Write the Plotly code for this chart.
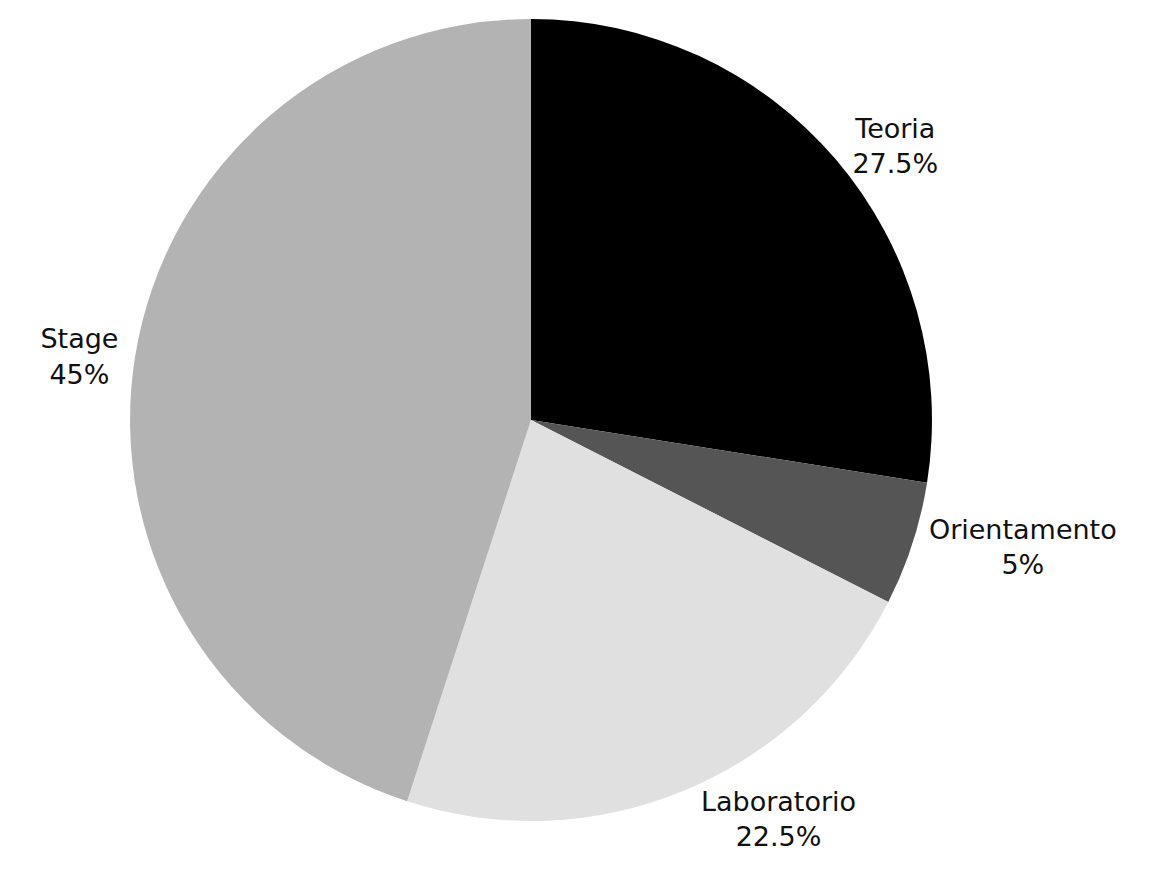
import plotly.graph_objects as go

labels = ["Teoria", "Orientamento", "Laboratorio", "Stage"]
values = [27.5, 5, 22.5, 45]
colors = ["#000000", "#555555", "#e0e0e0", "#b3b3b3"]

fig = go.Figure(go.Pie(
    labels=labels,
    values=values,
    sort=False,
    direction="clockwise",
    rotation=0,
    marker=dict(colors=colors, line=dict(width=0)),
    textinfo="label+percent",
    textposition="outside",
    outsidetextfont=dict(color="#111111", size=27, family="DejaVu Sans"),
    hoverinfo="label+percent",
    showlegend=False,
    domain=dict(x=[0.1044, 0.7904], y=[0, 1]),
))

fig.update_layout(
    width=1169, height=895,
    margin=dict(l=0, r=0, t=11, b=82),
    paper_bgcolor="white",
    plot_bgcolor="white",
    font=dict(family="DejaVu Sans", size=27, color="#111111"),
)

fig.write_html("out.html")
